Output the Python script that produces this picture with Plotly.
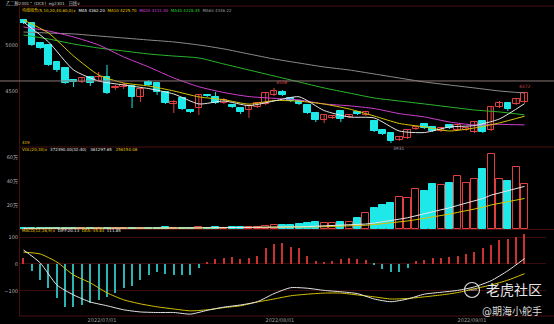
import plotly.graph_objects as go
import pandas as pd

# ---------------- data ----------------
opens = [5272, 5239, 5022, 5000, 4815, 4750, 4620, 4598, 4652, 4609,
         4652, 4533, 4543, 4554, 4435, 4598, 4587, 4489, 4359, 4424,
         4293, 4315, 4457, 4435, 4370, 4348, 4315, 4293, 4326, 4359,
         4457, 4489, 4424, 4391, 4348, 4261, 4185, 4207, 4283, 4217,
         4272, 4239, 4174, 4076, 4043, 3967, 3989, 4087, 4141, 4109,
         4065, 4130, 4076, 4076, 4054, 4174, 4076, 4326, 4370, 4359, 4380]
closes = [5239, 5000, 4967, 4783, 4728, 4587, 4598, 4641, 4587, 4652,
          4478, 4543, 4565, 4435, 4522, 4565, 4489, 4370, 4380, 4304,
          4272, 4457, 4446, 4370, 4402, 4326, 4272, 4337, 4370, 4478,
          4500, 4457, 4391, 4359, 4261, 4185, 4239, 4228, 4196, 4239,
          4250, 4272, 4065, 4033, 3957, 4000, 4076, 4109, 4098, 4065,
          4098, 4098, 4130, 4098, 4163, 4054, 4326, 4370, 4304, 4413, 4478]
highs = [5283, 5250, 5033, 5011, 4826, 4761, 4630, 4652, 4663, 4707,
         4783, 4565, 4587, 4565, 4533, 4620, 4598, 4500, 4402, 4435,
         4304, 4467, 4467, 4489, 4424, 4359, 4326, 4348, 4380, 4489,
         4533, 4511, 4435, 4402, 4359, 4272, 4250, 4239, 4293, 4250,
         4283, 4283, 4185, 4087, 4054, 4011, 4087, 4120, 4152, 4120,
         4109, 4141, 4141, 4109, 4174, 4185, 4337, 4391, 4380, 4424, 4489]
lows = [5228, 4989, 4956, 4772, 4707, 4576, 4543, 4587, 4554, 4598,
        4467, 4511, 4522, 4315, 4380, 4554, 4457, 4359, 4261, 4293,
        4261, 4239, 4435, 4359, 4359, 4315, 4250, 4207, 4315, 4348,
        4446, 4446, 4380, 4348, 4250, 4163, 4152, 4196, 4163, 4207,
        4239, 4228, 4054, 4022, 3935, 3957, 3978, 4076, 4087, 4054,
        4054, 4087, 4065, 4065, 4043, 4043, 4065, 4315, 4283, 4348, 4370]
volumes = [5000, 9000, 7000, 8000, 6000, 8000, 5000, 5000, 6000, 7000,
           10000, 8000, 7000, 12000, 9000, 8000, 11000, 13000, 10000, 12000,
           11000, 16000, 12000, 13000, 12000, 15000, 18000, 20000, 19000, 25000,
           32000, 30000, 36000, 40000, 52000, 62000, 52000, 48000, 60000, 56000,
           92000, 133000, 175000, 200000, 217000, 267000, 258000, 333000, 317000, 375000,
           367000, 383000, 442000, 383000, 417000, 500000, 625000, 417000, 400000, 517000, 375000]

ma_idx = [0, 3, 6, 9, 12, 15, 18, 21, 24, 27, 30, 33, 36, 39, 42, 45, 48, 51, 54, 57, 60]
ma5 = [5250, 5033, 4728, 4609, 4565, 4526, 4467, 4359, 4391, 4341, 4391,
       4437, 4287, 4217, 4207, 4065, 4048, 4109, 4124, 4196, 4362]
ma10 = [5272, 5130, 4880, 4674, 4587, 4554, 4500, 4436, 4405, 4357, 4396,
        4389, 4358, 4304, 4228, 4147, 4110, 4065, 4098, 4153, 4226]
ma20 = [5196, 5152, 5087, 5000, 4870, 4761, 4641, 4546, 4483, 4439, 4420,
        4403, 4359, 4339, 4309, 4254, 4218, 4163, 4130, 4137, 4131]
ma40 = [5109, 5065, 5011, 4967, 4935, 4902, 4880, 4859, 4793, 4728, 4663,
        4598, 4533, 4478, 4424, 4391, 4359, 4326, 4293, 4272, 4240]
ma60 = [5141, 5130, 5120, 5098, 5076, 5054, 5033, 5000, 4957, 4902, 4848,
        4804, 4761, 4728, 4685, 4641, 4598, 4565, 4533, 4500, 4478]

macd_idx = list(range(0, 61, 2))
diff = [52, 4, -78, -115, -141, -155, -170, -178, -180, -180, -186, -172, -160, -152, -140, -110,
        -88, -90, -98, -103, -110, -130, -140, -130, -112, -105, -98, -85, -62, -25, 20]
dea = [44, 37, 7, -41, -70, -107, -133, -148, -159, -167, -174, -170, -162, -155, -141, -130,
       -118, -112, -108, -108, -115, -122, -130, -128, -122, -115, -106, -92, -78, -60, -36]
macd_hist = [22, -26, -59, -90, -125, -160, -160, -152, -145, -133,
             -121, -108, -89, -83, -59, -40, -30, -37, -40, -42,
             -40, -15, 7, 19, 22, 26, 19, 22, 30, 58,
             75, 77, 64, 58, 31, 10, 5, 12, 20, 22,
             20, 15, -5, -20, -30, -28, -15, 11, 15, 21,
             23, 27, 31, 36, 46, 58, 70, 89, 93, 99, 112]

date_tick_pos = [9.4, 30.7, 53.7]
date_tick_text = ["2022/07/01", "2022/08/01", "2022/09/01"]
price_ticks = [4500, 5000]
vol_ticks = [200000, 400000, 600000]
vol_tick_text = ["20万", "40万", "60万"]
macd_ticks = [-100, 0, 100]
ref_price = 4609
hi_mark = (31, 4533, "4508")
lo_mark = (45, 3935, "3931")
last_mark = (60, 4489, "4372")

# ---------------- styles ----------------
RED = "#e04040"
CYAN = "#1ee8e8"
FONT = "DejaVu Sans, Noto Sans CJK SC"
x = list(range(len(opens)))
up = [c >= o for o, c in zip(opens, closes)]

fig = go.Figure()

# wicks (drawn first so hollow bodies cover them)
for flag, col in [(True, RED), (False, CYAN)]:
    wx, wy = [], []
    for i in x:
        if up[i] == flag:
            wx += [i, i, None]
            wy += [lows[i], highs[i], None]
    fig.add_trace(go.Scatter(x=wx, y=wy, mode="lines", line=dict(color=col, width=1),
                             xaxis="x", yaxis="y", showlegend=False, hoverinfo="skip"))

# candle bodies
fig.add_trace(go.Bar(
    x=x, y=[abs(c - o) for o, c in zip(opens, closes)],
    base=[min(o, c) for o, c in zip(opens, closes)], width=0.8,
    marker=dict(color=["#000000" if u else CYAN for u in up],
                line=dict(color=[RED if u else CYAN for u in up], width=1)),
    xaxis="x", yaxis="y", showlegend=False, hoverinfo="skip"))

for vals, col in [(ma60, "#8c8c8c"), (ma40, "#2cb82c"), (ma20, "#d040d0"),
                  (ma10, "#d8c400"), (ma5, "#e6e6e6")]:
    fig.add_trace(go.Scatter(x=ma_idx, y=vals, mode="lines",
                             line=dict(color=col, width=1, shape="spline", smoothing=0.6),
                             xaxis="x", yaxis="y", showlegend=False, hoverinfo="skip"))

# volume
fig.add_trace(go.Bar(
    x=x, y=volumes, width=0.84,
    marker=dict(color=["#000000" if u else CYAN for u in up],
                line=dict(color=[RED if u else CYAN for u in up], width=1)),
    xaxis="x", yaxis="y2", showlegend=False, hoverinfo="skip"))
vs = pd.Series(volumes)
fig.add_trace(go.Scatter(x=x, y=vs.rolling(30, min_periods=1).mean(), mode="lines",
                         line=dict(color="#d8c400", width=1), xaxis="x", yaxis="y2",
                         showlegend=False, hoverinfo="skip"))
fig.add_trace(go.Scatter(x=x, y=vs.rolling(20, min_periods=1).mean(), mode="lines",
                         line=dict(color="#e6e6e6", width=1), xaxis="x", yaxis="y2",
                         showlegend=False, hoverinfo="skip"))

# MACD
fig.add_trace(go.Bar(
    x=x, y=macd_hist, width=0.15,
    marker=dict(color=["#c83232" if v >= 0 else "#2ab4b4" for v in macd_hist], line=dict(width=0)),
    xaxis="x", yaxis="y3", showlegend=False, hoverinfo="skip"))
fig.add_trace(go.Scatter(x=macd_idx, y=dea, mode="lines",
                         line=dict(color="#d8c400", width=1, shape="spline", smoothing=0.6),
                         xaxis="x", yaxis="y3", showlegend=False, hoverinfo="skip"))
fig.add_trace(go.Scatter(x=macd_idx, y=diff, mode="lines",
                         line=dict(color="#e6e6e6", width=1, shape="spline", smoothing=0.6),
                         xaxis="x", yaxis="y3", showlegend=False, hoverinfo="skip"))

AX = dict(showgrid=False, zeroline=False, showline=True, linecolor="#4a1010", linewidth=1,
          ticks="", automargin=False,
          tickfont=dict(size=5, color="#b0b0b0", family=FONT), fixedrange=True)

fig.update_layout(
    template="none",
    width=554, height=324,
    margin=dict(l=20, r=8, t=7, b=8, pad=0),
    paper_bgcolor="#000000", plot_bgcolor="#000000",
    barmode="overlay",
    bargap=0,
    font=dict(family=FONT, color="#cccccc"),
    xaxis=dict(range=[-0.42, 62.57], anchor="y3", showgrid=False, zeroline=False,
               showline=False, tickvals=date_tick_pos, ticktext=date_tick_text, ticks="",
               automargin=False,
               tickfont=dict(size=5, color="#9a9a9a", family=FONT), fixedrange=True),
    yaxis=dict(domain=[0.5502, 1.0], range=[3902, 5413], tickvals=price_ticks, **AX),
    yaxis2=dict(domain=[0.2816, 0.5469], range=[0, 683300], tickvals=vol_ticks,
                ticktext=vol_tick_text, **AX),
    yaxis3=dict(domain=[0.0, 0.2783], range=[-193, 126], tickvals=macd_ticks, **AX),
)
fig.layout.yaxis3.showgrid = True
fig.layout.yaxis3.gridcolor = "#3c0c0c"
fig.layout.yaxis3.gridwidth = 1

# panel borders and price line
shapes = []
for yp in [1.003, 0.5469, 0.2799, 0.0]:
    shapes.append(dict(type="line", xref="paper", yref="paper", x0=-0.002, x1=1.015, y0=yp, y1=yp,
                       line=dict(color="#4a1010", width=1)))
shapes.append(dict(type="line", xref="paper", yref="y", x0=-0.038, x1=1.015,
                   y0=ref_price, y1=ref_price, line=dict(color="#8a7676", width=1)))
# watermark logo ring
shapes.append(dict(type="circle", xref="paper", yref="paper", x0=0.845, x1=0.8736,
                   y0=0.0599, y1=0.1084, line=dict(color="#d8d8d8", width=1.2)))
fig.update_layout(shapes=shapes)

ann = []
def txt(t, xp, yp, size=4, color="#cccccc", xanchor="left", **kw):
    ann.append(dict(text=t, x=xp, y=yp, xref="paper", yref="paper", showarrow=False,
                    xanchor=xanchor, yanchor="middle", font=dict(size=size, color=color, family=FONT), **kw))

txt("乙二醇2301⌃ (DCE)  eg2301   日线∨", -0.03, 1.0129, size=4.2, color="#c8c8c8")
txt("<span style='color:#e6c800'>均线组合(5,10,20,40,60,0)∨</span>  "
    "<span style='color:#e6e6e6'>MA5 4362.20</span>  "
    "<span style='color:#e6c800'>MA10 4225.70</span>  "
    "<span style='color:#d040d0'>MA20 4131.00</span>  "
    "<span style='color:#2cc82c'>MA40 4228.45</span>  "
    "<span style='color:#9a9a9a'>MA60 4346.22</span>", 0.0, 0.9919)
txt("419", 0.0, 0.5631, color="#e6c800")
txt("<span style='color:#e6c800'>VOL(20,30)∨</span>  "
    "<span style='color:#e6e6e6'>372390.00(32:40)</span>   "
    "<span style='color:#e6e6e6'>361297.65</span>   "
    "<span style='color:#e6c800'>256150.08</span>", 0.0, 0.5388)
txt("<span style='color:#e6c800'>MACD(12,26,9)∨</span>  "
    "<span style='color:#e6e6e6'>DIFF:20.13</span>  "
    "<span style='color:#e6c800'>DEA:-35.83</span>  "
    "<span style='color:#e6e6e6'>111.85</span>", 0.0, 0.2751)

# watermark
txt("老虎社区", 0.939, 0.0841, size=14, color="#e8e8e8", xanchor="center")
txt("@期海小舵手", 0.935, 0.0162, size=10, color="#d8d8d8", xanchor="center")
txt("TIGER", 0.8593, 0.0841, size=3.5, color="#d8d8d8", xanchor="center")

# high / low price marks
for (xi, yv, label), col, anchor in [(hi_mark, "#d04848", "bottom"), (lo_mark, "#9aa2b0", "top"),
                                     (last_mark, "#d04848", "bottom")]:
    ann.append(dict(text=label, x=xi, y=yv, xref="x", yref="y", showarrow=False,
                    yanchor=anchor, xanchor="center", yshift=1 if anchor == "bottom" else -1,
                    font=dict(size=4.5, color=col, family=FONT)))

fig.update_layout(annotations=ann)
fig.write_html("out.html")
